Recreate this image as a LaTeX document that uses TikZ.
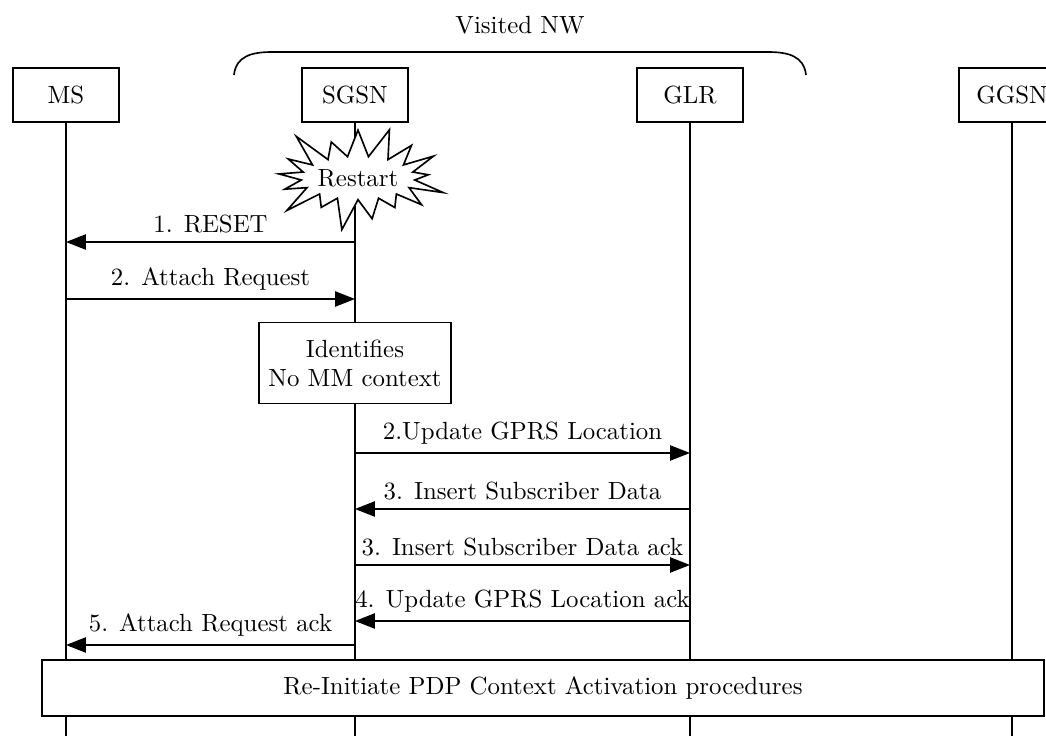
\documentclass[tikz,border=0pt]{standalone}
\usetikzlibrary{arrows.meta,shapes.symbols}
\begin{document}
\begin{tikzpicture}[x=0.015cm, y=-0.015cm, line width=0.7pt,
    font=\fontsize{10.6pt}{12.4pt}\selectfont,
    >={Triangle[length=8.5pt,width=6.5pt]},
    entity/.style={draw, fill=white, minimum width=1.59cm, minimum height=0.81cm, inner sep=0pt},
    msg/.style={->}]
    \useasboundingbox (0,0) rectangle (1046,736);

    % 1. Network entities
    \node[entity] (ms)   at (66,95)   {MS};
    \node[entity] (sgsn) at (355,95)  {SGSN};
    \node[entity] (glr)  at (690,95)  {GLR};
    \node[entity] (ggsn) at (1012,95) {GGSN};

    % Lifelines down to the bottom edge
    \foreach \e in {ms,sgsn,glr,ggsn}
        \draw (\e.south) -- (\e.south |- 0,736);

    % 2. Visited network brace
    \draw (234,75) .. controls (236,56) and (252,52) .. (272,52) -- (768,52)
        .. controls (788,52) and (804,56) .. (806,75);
    \node (nw) at (520,25) {Visited NW};

    % 3. SGSN restart
    \node[starburst, draw, fill=white, starburst points=17, starburst point height=0.55cm,
        minimum width=2.77cm, minimum height=1.75cm, inner sep=0pt] (restart) at (358,178) {Restart};

    % 4. Messages
    \draw[msg] (sgsn |- 0,242) -- node[above] {1. RESET} (ms |- 0,242);
    \draw[msg] (ms |- 0,299) -- node[above] {2. Attach Request} (sgsn |- 0,299);

    \node[draw, fill=white, minimum width=2.88cm, minimum height=1.215cm, align=center]
        (ident) at (355,363) {Identifies\\No MM context};

    \draw[msg] (sgsn |- 0,453) -- node[above] {2.Update GPRS Location} (glr |- 0,453);
    \draw[msg] (glr |- 0,509) -- node[above] {3. Insert Subscriber Data} (sgsn |- 0,509);
    \draw[msg] (sgsn |- 0,565) -- node[above] {3. Insert Subscriber Data ack} (glr |- 0,565);
    \draw[msg] (glr |- 0,621) -- node[above] {4. Update GPRS Location ack} (sgsn |- 0,621);
    \draw[msg] (sgsn |- 0,645) -- node[above] {5. Attach Request ack} (ms |- 0,645);

    % 5. Re-initiate procedures
    \node[draw, fill=white, minimum width=15.03cm, minimum height=0.84cm]
        (reinit) at (543,688) {Re-Initiate PDP Context Activation procedures};
\end{tikzpicture}
\end{document}
